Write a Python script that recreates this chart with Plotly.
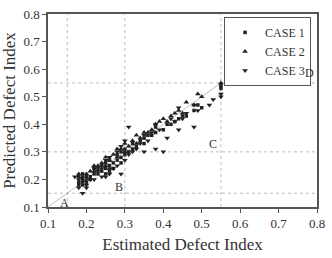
import plotly.graph_objects as go

# CASE 1 (squares)
c1_x = [0.18,0.18,0.18,0.19,0.19,0.19,0.20,0.20,0.21,0.21,0.22,0.22,0.23,0.23,0.24,0.24,0.25,0.25,0.25,0.26,0.26,0.26,0.27,0.27,0.28,0.28,0.29,0.29,0.29,0.30,0.30,0.31,0.32,0.32,0.33,0.34,0.35,0.35,0.36,0.37,0.38,0.38,0.40,0.41,0.42,0.43,0.44,0.45,0.46,0.48,0.49,0.50,0.55,0.55]
c1_y = [0.19,0.21,0.18,0.18,0.20,0.22,0.19,0.21,0.21,0.20,0.22,0.24,0.22,0.24,0.23,0.25,0.24,0.26,0.22,0.23,0.25,0.27,0.26,0.24,0.27,0.29,0.28,0.30,0.26,0.29,0.31,0.30,0.31,0.33,0.32,0.34,0.33,0.35,0.36,0.36,0.37,0.39,0.38,0.40,0.40,0.41,0.42,0.43,0.43,0.45,0.47,0.46,0.54,0.53]
# CASE 2 (triangle up)
c2_x = [0.18,0.19,0.20,0.20,0.21,0.22,0.22,0.23,0.24,0.25,0.25,0.26,0.26,0.27,0.28,0.28,0.29,0.30,0.30,0.31,0.32,0.33,0.33,0.34,0.35,0.36,0.37,0.38,0.39,0.40,0.41,0.42,0.43,0.44,0.45,0.46,0.48,0.49,0.50,0.55]
c2_y = [0.22,0.21,0.22,0.20,0.23,0.23,0.25,0.25,0.26,0.25,0.28,0.27,0.24,0.29,0.28,0.31,0.31,0.30,0.33,0.32,0.34,0.33,0.36,0.35,0.37,0.37,0.38,0.40,0.41,0.42,0.41,0.43,0.44,0.45,0.44,0.48,0.47,0.51,0.50,0.55]
# CASE 3 (triangle down)
c3_x = [0.17,0.18,0.18,0.19,0.19,0.20,0.20,0.21,0.22,0.22,0.23,0.24,0.24,0.25,0.25,0.26,0.26,0.27,0.28,0.28,0.29,0.29,0.30,0.30,0.31,0.31,0.32,0.33,0.34,0.35,0.35,0.36,0.37,0.38,0.38,0.39,0.40,0.41,0.42,0.43,0.44,0.44,0.45,0.46,0.48,0.48,0.49,0.52,0.53,0.55,0.55]
c3_y = [0.21,0.17,0.20,0.15,0.19,0.18,0.17,0.20,0.20,0.24,0.23,0.21,0.24,0.21,0.27,0.22,0.28,0.24,0.25,0.30,0.22,0.32,0.27,0.34,0.29,0.39,0.30,0.31,0.33,0.30,0.36,0.34,0.37,0.31,0.40,0.38,0.30,0.35,0.42,0.41,0.38,0.46,0.42,0.44,0.39,0.47,0.45,0.47,0.49,0.50,0.51]

grid_vals = [0.15, 0.30, 0.55]
diag = [0.1, 0.55]
labels = ["A", "B", "C", "D"]
label_x = [0.143, 0.285, 0.53, 0.78]
label_y = [0.115, 0.172, 0.327, 0.585]

serif = "Liberation Serif"
mc = "#222222"

fig = go.Figure()
fig.add_trace(go.Scatter(x=c1_x, y=c1_y, mode="markers", name="CASE 1",
                         marker=dict(symbol="square", size=3.5, color=mc)))
fig.add_trace(go.Scatter(x=c2_x, y=c2_y, mode="markers", name="CASE 2",
                         marker=dict(symbol="triangle-up", size=5, color=mc)))
fig.add_trace(go.Scatter(x=c3_x, y=c3_y, mode="markers", name="CASE 3",
                         marker=dict(symbol="triangle-down", size=5, color=mc)))

shapes = []
for v in grid_vals:
    shapes.append(dict(type="line", xref="x", yref="paper", x0=v, x1=v, y0=0, y1=1,
                       line=dict(color="#bbbbbb", width=1, dash="dot"), layer="below"))
    shapes.append(dict(type="line", xref="paper", yref="y", x0=0, x1=1, y0=v, y1=v,
                       line=dict(color="#bbbbbb", width=1, dash="dot"), layer="below"))
shapes.append(dict(type="line", xref="x", yref="y", x0=diag[0], y0=diag[0], x1=diag[1], y1=diag[1],
                   line=dict(color="#bbbbbb", width=1), layer="below"))

annotations = [dict(x=lx, y=ly, text=t, showarrow=False, xref="x", yref="y",
                    font=dict(family=serif, size=12, color="#333"))
               for t, lx, ly in zip(labels, label_x, label_y)]

axis_common = dict(range=[0.1, 0.8], dtick=0.1, showgrid=False, zeroline=False,
                   showline=True, mirror=True, linecolor="#555555", linewidth=1.5,
                   ticks="outside", ticklen=4, tickcolor="#555555",
                   tickfont=dict(family=serif, size=13, color="#333"))

fig.update_layout(
    width=332, height=258,
    margin=dict(l=48, r=9, t=7, b=49),
    paper_bgcolor="white", plot_bgcolor="white",
    xaxis=dict(**axis_common, tickformat=".1f",
               title=dict(text="Estimated Defect Index", font=dict(family=serif, size=17, color="#333"), standoff=8)),
    yaxis=dict(**axis_common, tickformat=".1f",
               title=dict(text="Predicted Defect Index", font=dict(family=serif, size=17, color="#333"), standoff=4)),
    legend=dict(x=0.978, y=0.985, xanchor="right", yanchor="top",
                bordercolor="#555555", borderwidth=1, bgcolor="white",
                font=dict(family=serif, size=12, color="#333"),
                itemwidth=30, tracegroupgap=0),
    shapes=shapes, annotations=annotations, showlegend=True,
)

fig.write_html("out.html")
